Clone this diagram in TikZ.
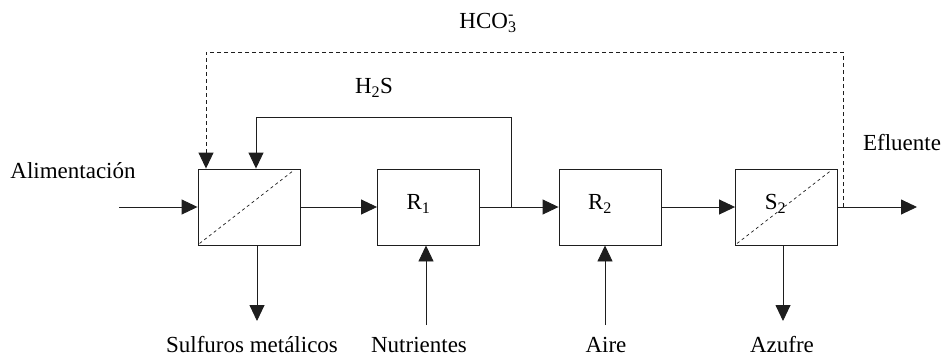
\documentclass[tikz,border=0pt]{standalone}
\usepackage{fontspec}
\setmainfont{Liberation Serif}
\usetikzlibrary{arrows.meta,calc}
\begin{document}
\begin{tikzpicture}[x=1pt,y=-1pt,
  line width=0.9pt, draw={rgb,255:red,30;green,30;blue,30},
  font=\fontsize{23}{27}\selectfont,
  proc/.style={draw, minimum width=102pt, minimum height=76pt, inner sep=0pt},
  arr/.style={-{Triangle[length=16pt,width=15pt]}},
  fb/.style={dash pattern=on 4pt off 3pt},
  diag/.style={line width=0.7pt, dash pattern=on 3pt off 3pt},
  lbl/.style={inner sep=0pt},
  blbl/.style={inner sep=0pt, anchor=base, text depth=0pt}
]
\useasboundingbox (0,0) rectangle (944,356);

% process boxes
\node[proc] (b1) at (249,207) {};
\node[proc, label={[xshift=-10pt,yshift=3pt]center:R\textsubscript{1}}] (R1) at (428.5,207) {};
\node[proc, label={[xshift=-10pt,yshift=3pt]center:R\textsubscript{2}}] (R2) at (610,207) {};
\node[proc, label={[xshift=-11pt,yshift=3pt]center:S\textsubscript{2}}] (S2) at (786.5,207) {};

% diagonals (separators)
\draw[diag] ($(b1.south west)+(2,-2)$) -- ($(b1.north east)+(-7,2)$);
\draw[diag] ($(S2.south west)+(2,-2)$) -- ($(S2.north east)+(-7,2)$);

% coordinates
\coordinate (in) at (119,207);
\coordinate (out) at (917,207);
\coordinate (j1) at (511,207);
\coordinate (h) at (256,117);
\coordinate (j2) at (843,207);
\coordinate (d) at (206,52);
\coordinate (s1) at (257,321);
\coordinate (n1) at (426,325);
\coordinate (a1) at (605,325);
\coordinate (z1) at (783,321);

% main flow
\draw[arr] (in) -- (b1.west);
\draw[arr] (b1.east) -- (R1.west);
\draw[arr] (R1.east) -- (R2.west);
\draw[arr] (R2.east) -- (S2.west);
\draw[arr] (S2.east) -- (out);

% recycles
\draw[arr] (j1) |- (h) -- (h |- b1.north);
\draw[arr, fb] (j2) |- (d) -- (d |- b1.north);

% vertical streams
\draw[arr] (s1 |- b1.south) -- (s1);
\draw[arr] (n1) -- (n1 |- R1.south);
\draw[arr] (a1) -- (a1 |- R2.south);
\draw[arr] (z1 |- S2.south) -- (z1);

% labels
\node[lbl] (tHCO) at (488,23) {HCO\rlap{\textsuperscript{-}}\textsubscript{3}};
\node[lbl] (tH2S) at (374,88) {H\textsubscript{2}S};
\node[lbl] (tAli) at (73,171) {Alimentación};
\node[lbl] (tEfl) at (902,143) {Efluente};
\node[blbl] (tSul) at (252,352) {Sulfuros metálicos};
\node[blbl] (tNut) at (419,352) {Nutrientes};
\node[blbl] (tAir) at (606,352) {Aire};
\node[blbl] (tAzu) at (782,352) {Azufre};
\end{tikzpicture}
\end{document}
